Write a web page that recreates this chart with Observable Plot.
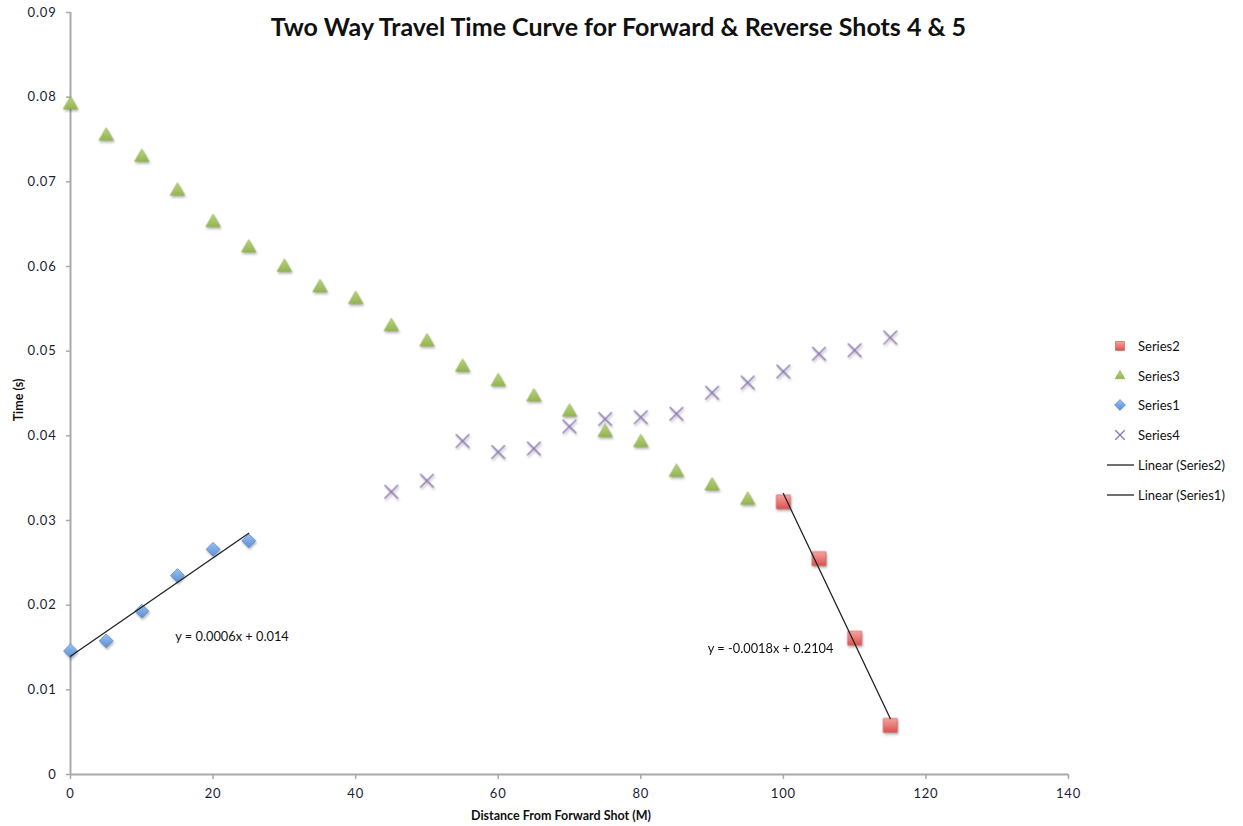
<!DOCTYPE html>
<html>
<head>
<meta charset="utf-8">
<script src="https://cdn.jsdelivr.net/npm/d3@7"></script>
<script src="https://cdn.jsdelivr.net/npm/@observablehq/plot@0.6"></script>
<style>
  body { margin: 0; background: #fff; }
  #chart { position: relative; width: 1243px; height: 826px; font-family: Lato, "Open Sans", sans-serif; color: #111; }
  #chart > svg { position: absolute; left: 0; top: 0; }
  #chart g[aria-label="x-axis tick label"] text,
  #chart g[aria-label="y-axis tick label"] text { letter-spacing: 0.8px; }
  .title { position: absolute; left: 0; top: 11px; width: 1237px; text-align: center; font-size: 25px; font-weight: bold; }
  .xlabel { position: absolute; left: 0; width: 1122px; top: 808px; text-align: center; font-size: 12.5px; font-weight: bold; }
  .ylabel { position: absolute; left: 18px; top: 400px; font-size: 12.5px; font-weight: bold; transform: translate(-50%, -50%) rotate(-90deg); white-space: nowrap; }
  .legend { position: absolute; left: 1100px; top: 331px; }
  .legend .row { display: flex; align-items: center; height: 29.8px; font-size: 13px; }
  .legend .row svg { display: block; margin-right: 4px; }
  g[aria-label="dot"] { filter: drop-shadow(1px 2px 1px rgba(0,0,0,0.28)); }
</style>
</head>
<body>
<div id="chart"></div>
<script>
// Forward shot, near-source arrivals (direct wave)
const series1X = [0, 5, 10, 15, 20, 25];
const series1Y = [0.0146, 0.0158, 0.0193, 0.0235, 0.0266, 0.0276];

// Reverse shot, near-source arrivals
const series2X = [100, 105, 110, 115];
const series2Y = [0.0322, 0.0255, 0.0161, 0.0058];

// Reverse shot, far arrivals
const series3X = [0, 5, 10, 15, 20, 25, 30, 35, 40, 45, 50, 55, 60, 65, 70, 75, 80, 85, 90, 95];
const series3Y = [0.0791, 0.0754, 0.0729, 0.0689, 0.0652, 0.0622, 0.0599, 0.0575, 0.0561, 0.0529,
                  0.0511, 0.0481, 0.0464, 0.0446, 0.0428, 0.0404, 0.0392, 0.0357, 0.0341, 0.0324];

// Forward shot, far arrivals
const series4X = [45, 50, 55, 60, 65, 70, 75, 80, 85, 90, 95, 100, 105, 110, 115];
const series4Y = [0.0334, 0.0347, 0.0394, 0.0381, 0.0385, 0.0411, 0.0420, 0.0422, 0.0426,
                  0.0451, 0.0463, 0.0476, 0.0497, 0.0501, 0.0516];

const xTicks = [0, 20, 40, 60, 80, 100, 120, 140];
const yTicks = [0, 0.01, 0.02, 0.03, 0.04, 0.05, 0.06, 0.07, 0.08, 0.09];

const titleText = "Two Way Travel Time Curve for Forward & Reverse Shots 4 & 5";
const xTitle = "Distance From Forward Shot (M)";
const yTitle = "Time (s)";
const eq1 = "y = 0.0006x + 0.014";
const eq2 = "y = -0.0018x + 0.2104";

const toRows = (xs, ys) => xs.map((x, i) => ({x, y: ys[i]}));
const s1 = toRows(series1X, series1Y);
const s2 = toRows(series2X, series2Y);
const s3 = toRows(series3X, series3Y);
const s4 = toRows(series4X, series4Y);

// Square turned 45 degrees, as a custom symbol
const diamond = {
  draw(ctx, size) {
    const r = Math.sqrt(size / 2);
    ctx.moveTo(0, -r); ctx.lineTo(r, 0); ctx.lineTo(0, r); ctx.lineTo(-r, 0); ctx.closePath();
  }
};

const axisGrey = "#a9a9a9";
const tickColor = "#1d1d33";
const fmt = d => d === 0 ? "0" : d.toFixed(2);

const svg = Plot.plot({
  width: 1243,
  height: 826,
  marginLeft: 70,
  marginRight: 175,
  marginTop: 12,
  marginBottom: 52,
  style: { fontFamily: "Lato, 'Open Sans', sans-serif", fontSize: "13px", color: tickColor, background: "transparent" },
  x: { domain: [0, 140] },
  y: { domain: [0, 0.09] },
  marks: [
    Plot.axisX({ ticks: xTicks, tickSize: 5, tickPadding: 9, stroke: axisGrey, strokeWidth: 1.5, label: null, fontSize: 13 }),
    Plot.axisY({ ticks: yTicks, tickFormat: fmt, tickSize: 4, tickPadding: 10, stroke: axisGrey, strokeWidth: 1.5, label: null, fontSize: 13 }),
    Plot.ruleX([0], { stroke: axisGrey, strokeWidth: 2 }),
    Plot.ruleY([0], { stroke: axisGrey, strokeWidth: 2 }),
    Plot.dot(s3, { x: "x", y: "y", symbol: "triangle", r: 5.4, fill: "url(#gGreen)", stroke: "#8aa84a", strokeWidth: 0.6 }),
    Plot.dot(s4, { x: "x", y: "y", symbol: "times", r: 6.2, stroke: "#8c74b4", strokeWidth: 1.4 }),
    Plot.dot(s1, { x: "x", y: "y", symbol: diamond, r: 5.6, fill: "url(#gBlue)", stroke: "#4a7fc4", strokeWidth: 0.6 }),
    Plot.dot(s2, { x: "x", y: "y", symbol: "square", r: 7.9, fill: "url(#gRed)", stroke: "#c9504c", strokeWidth: 0.6 }),
    Plot.linearRegressionY(s1, { x: "x", y: "y", stroke: "#222", strokeWidth: 1.3, ci: 0 }),
    Plot.linearRegressionY(s2, { x: "x", y: "y", stroke: "#222", strokeWidth: 1.3, ci: 0 }),
    Plot.text([eq1], { x: 14.7, y: 0.0163, text: d => d, textAnchor: "start", fontSize: 12.8, fill: "#111" }),
    Plot.text([eq2], { x: 89.4, y: 0.0148, text: d => d, textAnchor: "start", fontSize: 12.8, fill: "#111" })
  ]
});

// Marker shading
const defs = d3.select(svg).insert("defs", ":first-child");
const grad = (sel, id, top, bottom) => {
  const g = sel.append("linearGradient").attr("id", id).attr("x1", 0).attr("y1", 0).attr("x2", 0).attr("y2", 1);
  g.append("stop").attr("offset", "0%").attr("stop-color", top);
  g.append("stop").attr("offset", "100%").attr("stop-color", bottom);
};
grad(defs, "gGreen", "#b9d677", "#93b551");
grad(defs, "gBlue", "#9cc0ee", "#5a8fd6");
grad(defs, "gRed", "#f6a4a1", "#dc524e");

const chart = document.getElementById("chart");
chart.appendChild(svg);

const addDiv = (cls, text) => {
  const d = document.createElement("div");
  d.className = cls;
  d.textContent = text;
  chart.appendChild(d);
  return d;
};
addDiv("title", titleText);
addDiv("xlabel", xTitle);
addDiv("ylabel", yTitle);

// Legend
const legendItems = [
  { label: "Series2", kind: "dot", symbol: d3.symbolSquare, size: 80, fill: "url(#gRed)", stroke: "#c9504c" },
  { label: "Series3", kind: "dot", symbol: d3.symbolTriangle, size: 40, fill: "url(#gGreen)", stroke: "#8aa84a" },
  { label: "Series1", kind: "dot", symbol: diamond, size: 60, fill: "url(#gBlue)", stroke: "#4a7fc4" },
  { label: "Series4", kind: "times", symbol: d3.symbolTimes, size: 60, stroke: "#8c74b4" },
  { label: "Linear (Series2)", kind: "line" },
  { label: "Linear (Series1)", kind: "line" }
];
const legend = d3.select(chart).append("div").attr("class", "legend");
legendItems.forEach((it) => {
  const row = legend.append("div").attr("class", "row");
  const s = row.append("svg").attr("width", 34).attr("height", 16);
  if (it.kind === "line") {
    s.append("line").attr("x1", 7).attr("x2", 34).attr("y1", 8).attr("y2", 8).attr("stroke", "#222").attr("stroke-width", 1.3);
  } else {
    s.append("path")
      .attr("transform", "translate(20,8)")
      .attr("d", d3.symbol(it.symbol, it.size)())
      .attr("fill", it.kind === "times" ? "none" : it.fill)
      .attr("stroke", it.stroke)
      .attr("stroke-width", it.kind === "times" ? 1.3 : 0.6);
  }
  row.append("span").text(it.label);
});
</script>
</body>
</html>
